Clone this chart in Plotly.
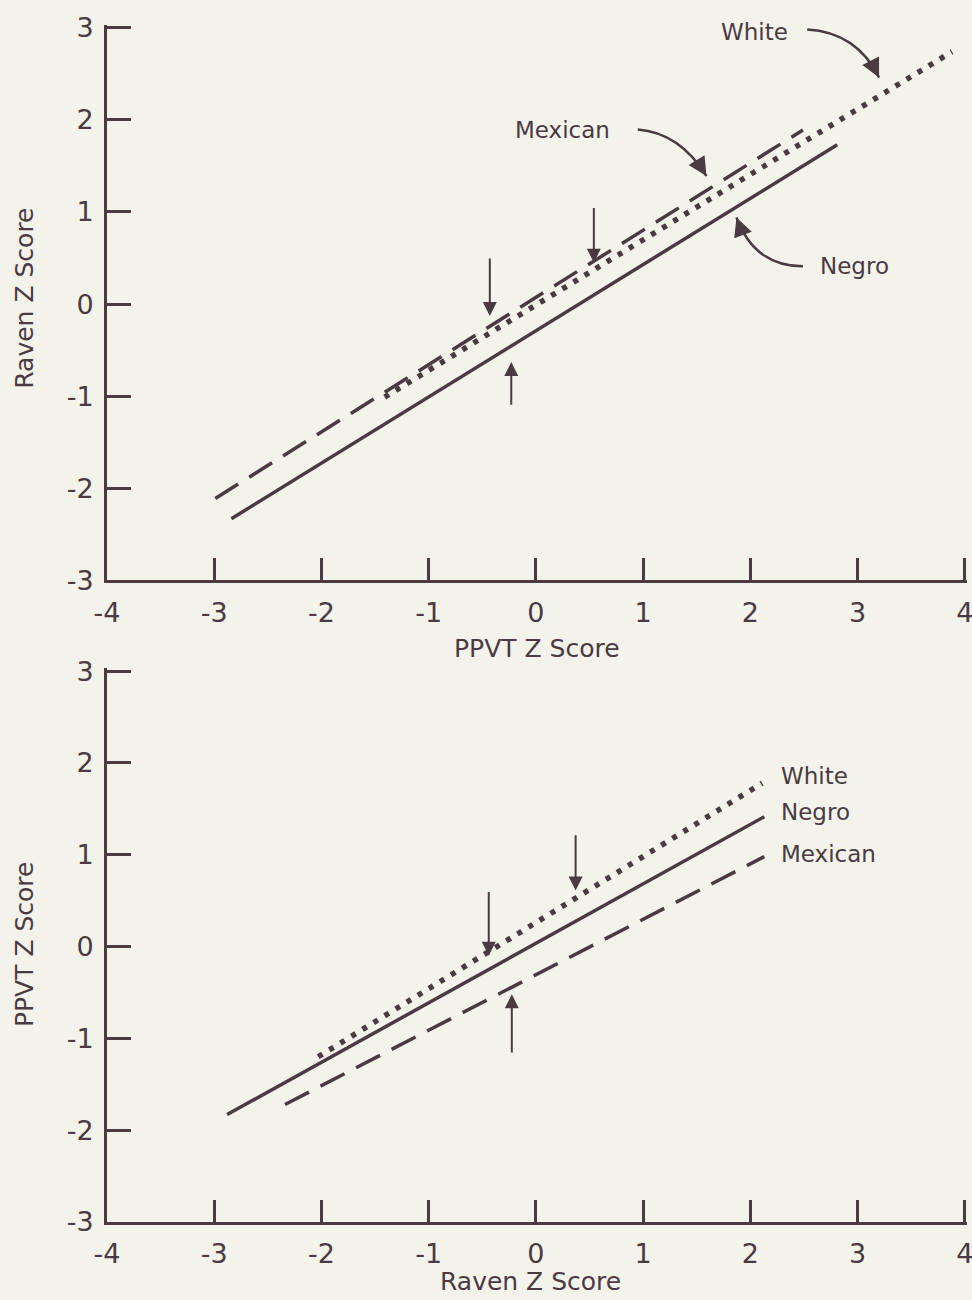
import plotly.graph_objects as go

# ---- Upper panel: Raven Z score regressed on PPVT Z score (line endpoints) ----
top_white_x = [-1.41, 3.88]
top_white_y = [-1.01, 2.74]
top_negro_x = [-2.84, 2.81]
top_negro_y = [-2.33, 1.73]
top_mexican_x = [-2.99, 2.49]
top_mexican_y = [-2.11, 1.89]

# ---- Lower panel: PPVT Z score regressed on Raven Z score ----
bottom_white_x = [-2.03, 2.11]
bottom_white_y = [-1.20, 1.78]
bottom_negro_x = [-2.88, 2.13]
bottom_negro_y = [-1.83, 1.415]
bottom_mexican_x = [-2.34, 2.13]
bottom_mexican_y = [-1.72, 0.98]

# group-mean markers: (x, tail y, tip y)
top_mean_arrows = [(-0.43, 0.51, -0.13), (0.54, 1.06, 0.45), (-0.23, -1.11, -0.63)]
bottom_mean_arrows = [(-0.44, 0.61, -0.10), (0.37, 1.23, 0.61), (-0.225, -1.17, -0.52)]

x_ticks = [-4, -3, -2, -1, 0, 1, 2, 3, 4]
x_tick_text = ["-4", "-3", "-2", "-1", "0", "1", "2", "3", "4"]
y_ticks = [-3, -2, -1, 0, 1, 2, 3]
y_tick_text = ["-3", "-2", "-1", "0", "1", "2", "3"]

INK = "#4a3a42"
BG = "#f3f3ec"
FONT = "DejaVu Sans"

# small overshoot so the end ticks at 4 and 3 are kept
X_RANGE = [-4, 4.02]
Y_RANGE = [-3, 3.03]

fig = go.Figure()


def add_lines(xa, ya, wx, wy, nx, ny, mx, my):
    fig.add_trace(go.Scatter(x=wx, y=wy, mode="lines", xaxis=xa, yaxis=ya,
                             line=dict(color=INK, width=5.5, dash="5px,8px"),
                             name="White", showlegend=False))
    fig.add_trace(go.Scatter(x=nx, y=ny, mode="lines", xaxis=xa, yaxis=ya,
                             line=dict(color=INK, width=3.5),
                             name="Negro", showlegend=False))
    fig.add_trace(go.Scatter(x=mx, y=my, mode="lines", xaxis=xa, yaxis=ya,
                             line=dict(color=INK, width=3.5, dash="27px,13px"),
                             name="Mexican", showlegend=False))


add_lines("x", "y", top_white_x, top_white_y, top_negro_x, top_negro_y,
          top_mexican_x, top_mexican_y)
add_lines("x2", "y2", bottom_white_x, bottom_white_y, bottom_negro_x, bottom_negro_y,
          bottom_mexican_x, bottom_mexican_y)

annotations = []


def mean_arrows(arrows, xr, yr):
    for x, tail, tip in arrows:
        annotations.append(dict(x=x, y=tip, ax=x, ay=tail, xref=xr, yref=yr,
                                axref=xr, ayref=yr, text="", showarrow=True,
                                arrowhead=2, arrowsize=1.4, arrowwidth=2,
                                arrowcolor=INK, standoff=0))


mean_arrows(top_mean_arrows, "x", "y")
mean_arrows(bottom_mean_arrows, "x2", "y2")

shapes = []


def curved_pointer(x0, y0, cx, cy, x1, y1):
    shapes.append(dict(type="path", xref="x", yref="y",
                       path=f"M {x0},{y0} Q {cx},{cy} {x1},{y1}",
                       line=dict(color=INK, width=2.5)))
    # short arrow along the tangent at the curve end to draw the head
    annotations.append(dict(x=x1, y=y1, ax=x1 - 0.15 * (x1 - cx), ay=y1 - 0.15 * (y1 - cy),
                            xref="x", yref="y", axref="x", ayref="y", text="",
                            showarrow=True, arrowhead=2, arrowsize=1.5,
                            arrowwidth=2.5, arrowcolor=INK, standoff=0))


# upper panel labels with curved pointers
label_font = dict(family=FONT, size=23, color=INK)
annotations.append(dict(x=2.04, y=2.95, xref="x", yref="y", text="White",
                        showarrow=False, font=label_font))
curved_pointer(2.53, 2.98, 2.99, 2.95, 3.20, 2.46)
annotations.append(dict(x=0.25, y=1.895, xref="x", yref="y", text="Mexican",
                        showarrow=False, font=label_font))
curved_pointer(0.95, 1.895, 1.34, 1.86, 1.59, 1.39)
annotations.append(dict(x=2.97, y=0.41, xref="x", yref="y", text="Negro",
                        showarrow=False, font=label_font))
curved_pointer(2.49, 0.41, 2.04, 0.41, 1.87, 0.94)

# lower panel labels at the line ends
for txt, yy in [("White", 1.86), ("Negro", 1.47), ("Mexican", 1.01)]:
    annotations.append(dict(x=2.27, y=yy, xref="x2", yref="y2", text=txt,
                            xanchor="left", showarrow=False, font=label_font))

# axis titles
title_font = dict(family=FONT, size=25, color=INK)
title_common = dict(xref="paper", yref="paper", showarrow=False, font=title_font,
                    xanchor="center", yanchor="middle")
annotations += [
    dict(x=0.5, y=0.479, text="PPVT Z Score", **title_common),
    dict(x=-0.0956, y=0.772, text="Raven Z Score", textangle=-90, **title_common),
    dict(x=0.493, y=-0.050, text="Raven Z Score", **title_common),
    dict(x=-0.0956, y=0.232, text="PPVT Z Score", textangle=-90, **title_common),
]

tick_font = dict(family=FONT, size=27, color=INK)
xaxis_style = dict(range=X_RANGE, tickvals=x_ticks, ticktext=x_tick_text,
                   ticks="inside", ticklen=22, tickwidth=2.5, tickcolor=INK,
                   showline=True, linecolor=INK, linewidth=3, showgrid=False,
                   zeroline=False, tickfont=tick_font, ticklabelstandoff=6,
                   ticklabeloverflow="allow", automargin=False)
yaxis_style = dict(range=Y_RANGE, tickvals=y_ticks, ticktext=y_tick_text,
                   ticks="inside", ticklen=24, tickwidth=2.5, tickcolor=INK,
                   showline=True, linecolor=INK, linewidth=3, showgrid=False,
                   zeroline=False, tickfont=tick_font, ticklabelstandoff=5,
                   ticklabeloverflow="allow", automargin=False)

fig.update_layout(
    width=972, height=1300,
    margin=dict(l=107, r=5, t=25, b=78, autoexpand=False),
    paper_bgcolor=BG, plot_bgcolor=BG,
    xaxis=dict(domain=[0, 1], anchor="y", **xaxis_style),
    yaxis=dict(domain=[0.536, 1.0], anchor="x", **yaxis_style),
    xaxis2=dict(domain=[0, 1], anchor="y2", **xaxis_style),
    yaxis2=dict(domain=[0.0, 0.4625], anchor="x2", **yaxis_style),
    annotations=annotations,
    shapes=shapes,
    showlegend=False,
)

fig.write_html("out.html")
